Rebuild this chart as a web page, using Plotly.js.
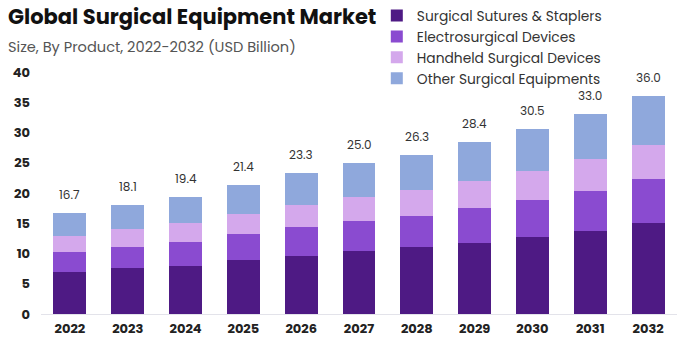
<!DOCTYPE html>
<html>
<head>
<meta charset="utf-8">
<script src="https://cdn.plot.ly/plotly-3.0.1.min.js"></script>
<style>html,body{margin:0;padding:0;background:#fff}#chart{width:684px;height:343px}</style>
</head>
<body>
<div id="chart"></div>
<script>
const years = ['2022','2023','2024','2025','2026','2027','2028','2029','2030','2031','2032'];
const sutures = [6.9, 7.6, 8.0, 8.9, 9.6, 10.4, 11.0, 11.8, 12.7, 13.7, 15.0];
const electro = [3.3, 3.5, 3.9, 4.3, 4.7, 5.0, 5.2, 5.8, 6.1, 6.7, 7.3];
const handheld = [2.7, 3.0, 3.1, 3.3, 3.8, 4.0, 4.3, 4.4, 4.9, 5.2, 5.7];
const other = [3.8, 4.0, 4.4, 4.9, 5.2, 5.6, 5.8, 6.4, 6.8, 7.4, 8.0];
const totals = [16.7, 18.1, 19.4, 21.4, 23.3, 25.0, 26.3, 28.4, 30.5, 33.0, 36.0];
const seriesNames = ['Surgical Sutures & Staplers','Electrosurgical Devices','Handheld Surgical Devices','Other Surgical Equipments'];
const colors = ['#4e1a84','#8a4bd0','#d4a8ec','#8fa8dc'];

const font = 'Poppins, "Open Sans", Lato, sans-serif';
const seriesVals = [sutures, electro, handheld, other];
const traces = seriesVals.map((v, i) => ({
  type: 'bar', x: years, y: v, name: seriesNames[i],
  marker: {color: colors[i], line: {width: 0}},
  hoverinfo: 'skip'
}));

// paper spans pixel y 0..314 (t=0, b=29); plot area occupies bottom 242 px
const H = 314;
const py = px => (H - px) / H;

const annotations = years.map((yr, i) => ({
  x: i, y: totals[i], xref: 'x', yref: 'y',
  text: totals[i].toFixed(1), showarrow: false,
  yanchor: 'bottom', yshift: 8,
  font: {family: font, size: 12, color: '#333'}
}));
annotations.push({
  xref: 'paper', yref: 'paper', x: -0.055, y: py(17), xanchor: 'left', yanchor: 'middle',
  text: '<b>Global Surgical Equipment Market</b>', showarrow: false,
  font: {family: font, size: 21, color: '#111'}
});
annotations.push({
  xref: 'paper', yref: 'paper', x: -0.055, y: py(47), xanchor: 'left', yanchor: 'middle',
  text: 'Size, By Product, 2022-2032 (USD Billion)', showarrow: false,
  font: {family: font, size: 14.6, color: '#555'}
});

const layout = {
  width: 684, height: 343,
  margin: {l: 41, r: 7, t: 0, b: 29},
  paper_bgcolor: '#fff', plot_bgcolor: '#fff',
  barmode: 'stack', bargap: 0.43,
  showlegend: true,
  legend: {
    x: 0.528, y: 1.0, xanchor: 'left', yanchor: 'top',
    traceorder: 'normal', font: {family: font, size: 13.8, color: '#333'},
    bgcolor: 'rgba(0,0,0,0)', itemwidth: 30
  },
  xaxis: {
    type: 'category', range: [-0.5, 10.5], showgrid: false, showline: true, linecolor: '#e3e3ea', linewidth: 1,
    ticks: '', tickfont: {family: font, size: 13, color: '#222', weight: 'bold'},
    ticklabelstandoff: 2, zeroline: false
  },
  yaxis: {
    domain: [0, 242 / H],
    range: [0, 40], dtick: 5, showgrid: false, zeroline: false, showline: false,
    ticks: '', tickfont: {family: font, size: 13, color: '#222', weight: 'bold'},
    ticklabelstandoff: 10
  },
  annotations: annotations
};

Plotly.newPlot('chart', traces, layout, {displayModeBar: false, staticPlot: true});
</script>
</body>
</html>
